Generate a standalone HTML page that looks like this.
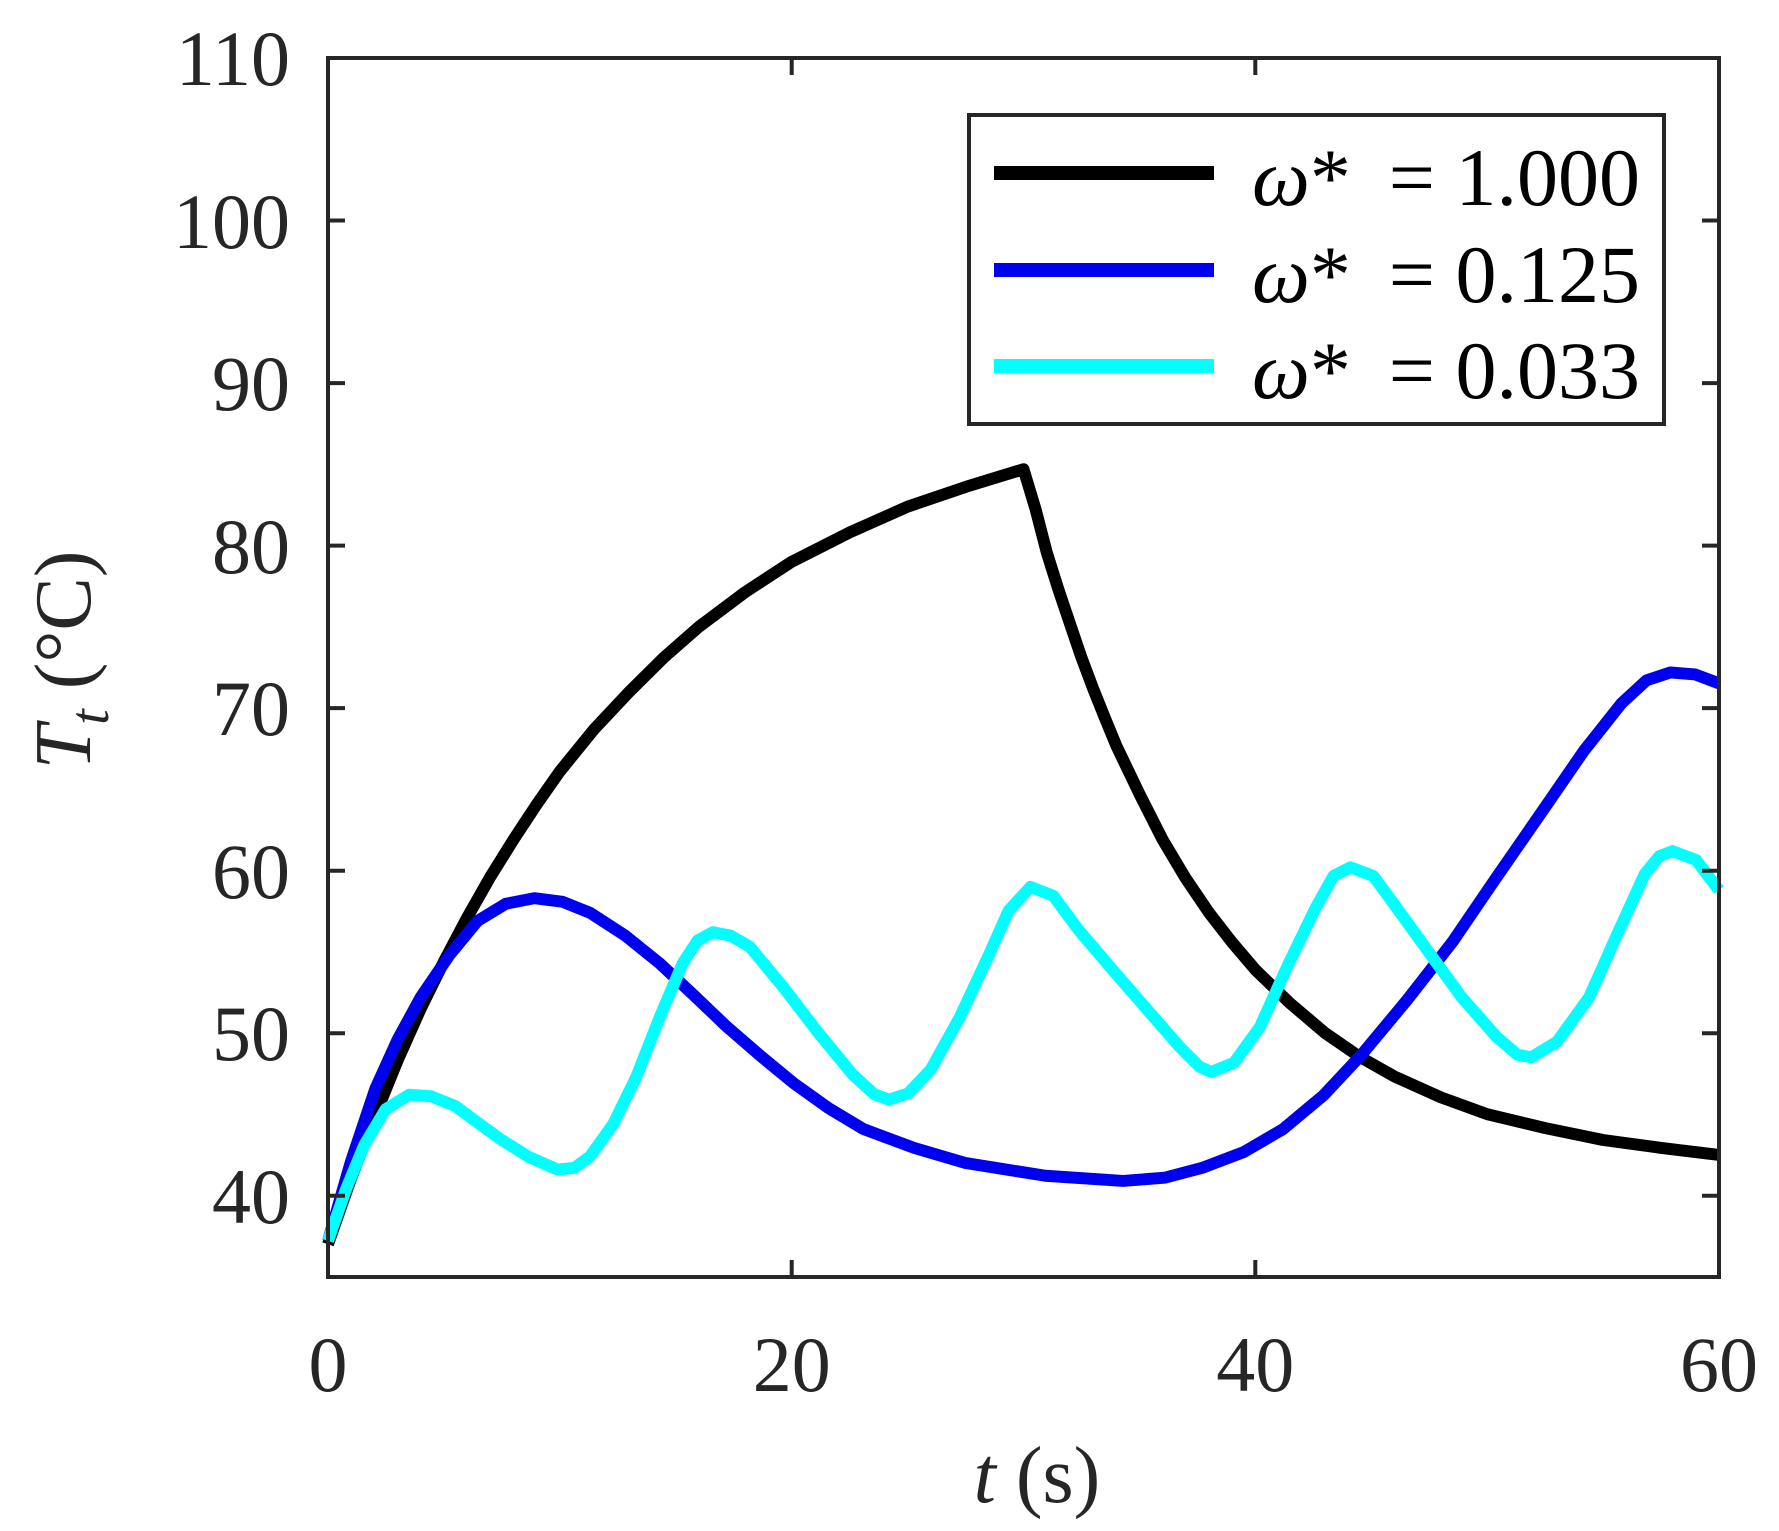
<!DOCTYPE html>
<html><head><meta charset="utf-8"><style>
html,body{margin:0;padding:0;background:#fff;}
svg{display:block;}
text{font-family:"Liberation Serif","Times New Roman",serif;fill:#262626;}
</style></head><body>
<svg width="1779" height="1531" viewBox="0 0 1779 1531" xmlns="http://www.w3.org/2000/svg">
<g fill="none" stroke-width="12" stroke-linejoin="round" stroke-linecap="butt" transform="matrix(0.99357,0,0,0.99267,2.109,2.41)">
<polyline stroke="#000" points="328,1251 351.3,1184.4 374.7,1123.3 398,1066 421.3,1013.7 444.7,966.2 468,922 491.3,881 514.7,843.4 538,808 561.3,774.7 596,732 631.3,694.4 666,660 701.3,629 748,594 794.7,563.5 853,534 911.3,508 970,488 1028,470.2 1040,510 1051.3,553.7 1063,591 1074.7,625.7 1086,659 1098,691.1 1110,721 1121.3,748.5 1145,798 1168,843.4 1191,882 1214.7,917 1238,947 1261.3,974.4 1296,1008 1331.3,1038 1366,1062 1401.3,1082 1448,1103 1494.7,1120 1553,1134 1611.3,1146 1670,1154 1728,1161"/>
<polyline stroke="#0000f0" points="328,1247.7 351,1168 375.8,1093.9 398,1045 421.3,1002.2 450,960 478.5,925.3 507,908 535.7,902.4 564,906 591.7,917.1 627,940 661.7,967.9 695,999 729.3,1031.8 763,1061 797,1089 832,1114 867,1135 918,1154 969.7,1169.2 1050,1182 1128.3,1187.2 1170,1184 1207.7,1174.1 1250,1158 1289.3,1135 1330,1101 1368.7,1059.5 1414,1005 1459.7,946.5 1505,880 1550.7,814 1592,754 1630,706 1655,683 1679,675 1704,677 1728,686"/>
<polyline stroke="#00ffff" points="328,1247.7 346,1196 364.4,1151.2 386,1115 409.7,1100.4 432,1102 456.3,1111.9 478,1128 500.7,1144.6 530,1163 559,1175.7 576,1174 591.7,1162.6 615,1130 638.3,1082.4 662,1022 685,967.9 700,945 715.3,936.7 733,940 752.7,951.5 787,993 820.3,1036.5 856,1080 878,1100 892.7,1105.3 912,1099 934.7,1075 964,1022 993,960 1013,915 1035,891 1058,900 1084,935.1 1118,975 1151.7,1013.7 1185,1052 1205,1072 1217,1077.5 1240,1068 1266,1032 1294,970 1322,912.2 1340,880 1357,871.3 1380,880 1403.7,912.2 1436,957 1469,1002.2 1504,1042 1525,1060 1539,1062.7 1565,1047 1597.3,1002.2 1625,940 1653.3,877.9 1668,860 1681.3,855 1705,864 1728,894.3"/>
</g>
<g stroke="#262626" stroke-width="4" fill="none">
<rect x="328" y="58" width="1391" height="1219"/>
<path d="M791.7,1277v-17M1255.3,1277v-17M791.7,58v17M1255.3,58v17
M328,1195.7h17M328,1033.2h17M328,870.7h17M328,708.1h17M328,545.6h17M328,383.1h17M328,220.5h17
M1719,1195.7h-17M1719,1033.2h-17M1719,870.7h-17M1719,708.1h-17M1719,545.6h-17M1719,383.1h-17M1719,220.5h-17"/>
</g>
<g font-size="78" text-anchor="end">
<text x="290" y="1223">40</text>
<text x="290" y="1060">50</text>
<text x="290" y="898">60</text>
<text x="290" y="735">70</text>
<text x="290" y="573">80</text>
<text x="290" y="410">90</text>
<text x="290" y="248">100</text>
<text x="290" y="85">110</text>
</g>
<g font-size="78" text-anchor="middle">
<text x="328" y="1391">0</text>
<text x="791.7" y="1391">20</text>
<text x="1255.3" y="1391">40</text>
<text x="1719" y="1391">60</text>
</g>
<text x="1037" y="1502" font-size="80" text-anchor="middle"><tspan font-style="italic">t</tspan>  (s)</text>
<text transform="translate(90,660) rotate(-90)" font-size="80" text-anchor="middle"><tspan font-style="italic">T</tspan><tspan font-style="italic" font-size="56" dy="18">t</tspan><tspan dy="-18">  (°C)</tspan></text>
<rect x="969" y="115" width="695" height="309" fill="#fff" stroke="#262626" stroke-width="4"/>
<line x1="994" y1="173" x2="1214" y2="173" stroke="#000" stroke-width="14"/>
<line x1="994" y1="270" x2="1214" y2="270" stroke="#0000f0" stroke-width="14"/>
<line x1="994" y1="366" x2="1214" y2="366" stroke="#00ffff" stroke-width="14"/>
<g font-size="82">
<text x="1252" y="205" style="fill:#000"><tspan font-style="italic">ω</tspan>*</text>
<text x="1640" y="205" text-anchor="end" style="fill:#000">= 1.000</text>
<text x="1252" y="302" style="fill:#000"><tspan font-style="italic">ω</tspan>*</text>
<text x="1640" y="302" text-anchor="end" style="fill:#000">= 0.125</text>
<text x="1252" y="398" style="fill:#000"><tspan font-style="italic">ω</tspan>*</text>
<text x="1640" y="398" text-anchor="end" style="fill:#000">= 0.033</text>
</g>
</svg>
</body></html>
